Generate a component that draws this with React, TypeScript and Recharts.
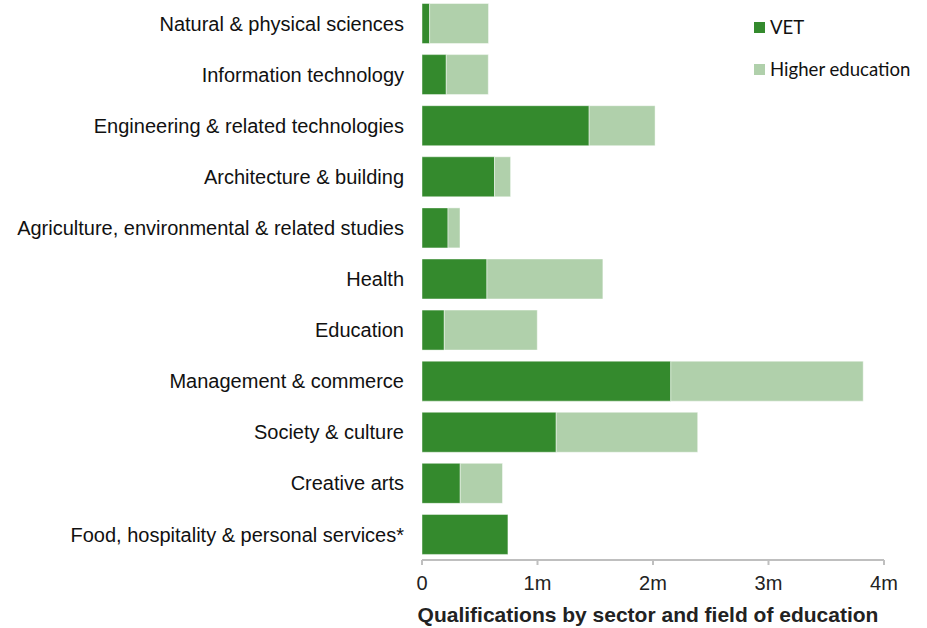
import React from 'react';
import { BarChart, Bar, XAxis, YAxis } from 'recharts';

const fields = [
  'Natural & physical sciences',
  'Information technology',
  'Engineering & related technologies',
  'Architecture & building',
  'Agriculture, environmental & related studies',
  'Health',
  'Education',
  'Management & commerce',
  'Society & culture',
  'Creative arts',
  'Food, hospitality & personal services*',
];

// qualifications, millions
const vet = [0.066, 0.21, 1.447, 0.628, 0.225, 0.562, 0.193, 2.154, 1.162, 0.331, 0.744];
const higherEd = [0.51, 0.364, 0.571, 0.139, 0.104, 1.004, 0.805, 1.666, 1.225, 0.366, 0];

const xTicks = [0, 1, 2, 3, 4];

const rows = fields.map((name, i) => ({ name, vet: vet[i], he: higherEd[i] }));

const DARK = '#348a2d';
const LIGHT = '#b0d0ab';
const FONT = '"Liberation Sans", Arial, sans-serif';

const legendItems = [
  { label: 'VET', color: DARK },
  { label: 'Higher education', color: LIGHT },
];

const App: React.FC = () => {
  return (
    <div style={{ position: 'absolute', left: 0, top: -2, width: 927, height: 630, fontFamily: FONT }}>
      <BarChart
        width={927}
        height={630}
        data={rows}
        layout="vertical"
        margin={{ top: 0, right: 43, bottom: 0, left: 0 }}
        barCategoryGap="10.8%"
        style={{ fontFamily: FONT }}
      >
        <XAxis
          type="number"
          domain={[0, 4]}
          ticks={xTicks}
          tickFormatter={(v: number) => (v === 0 ? '0' : `${v}m`)}
          stroke="#bfbfbf"
          strokeWidth={2}
          tickSize={5}
          tickMargin={11}
          tick={{ fill: '#222', fontSize: 20, fontFamily: FONT }}
          height={68}
          label={{
            value: 'Qualifications by sector and field of education',
            position: 'insideBottom',
            offset: 6,
            dx: -5,
            style: { fill: '#222', fontSize: 21, fontWeight: 700, fontFamily: FONT },
          }}
        />
        <YAxis
          type="category"
          dataKey="name"
          width={422}
          axisLine={false}
          tickLine={false}
          tickMargin={12}
          tick={{ fill: '#111', fontSize: 20, fontFamily: FONT }}
          interval={0}
        />
        <Bar dataKey="vet" name="VET" stackId="a" fill={DARK} stroke="rgba(255,255,255,0.45)" strokeWidth={1} isAnimationActive={false} />
        <Bar dataKey="he" name="Higher education" stackId="a" fill={LIGHT} stroke="rgba(255,255,255,0.45)" strokeWidth={1} isAnimationActive={false} />
      </BarChart>
      <div
        style={{
          position: 'absolute',
          left: 754,
          top: 8,
          fontFamily: 'Lato, "Open Sans", sans-serif',
          fontSize: 18.6,
          color: '#111',
        }}
      >
        {legendItems.map((it) => (
          <div key={it.label} style={{ display: 'flex', alignItems: 'center', height: 42 }}>
            <span style={{ width: 11, height: 11, background: it.color, marginRight: 5, display: 'inline-block' }} />
            <span>{it.label}</span>
          </div>
        ))}
      </div>
    </div>
  );
};

export default App;
